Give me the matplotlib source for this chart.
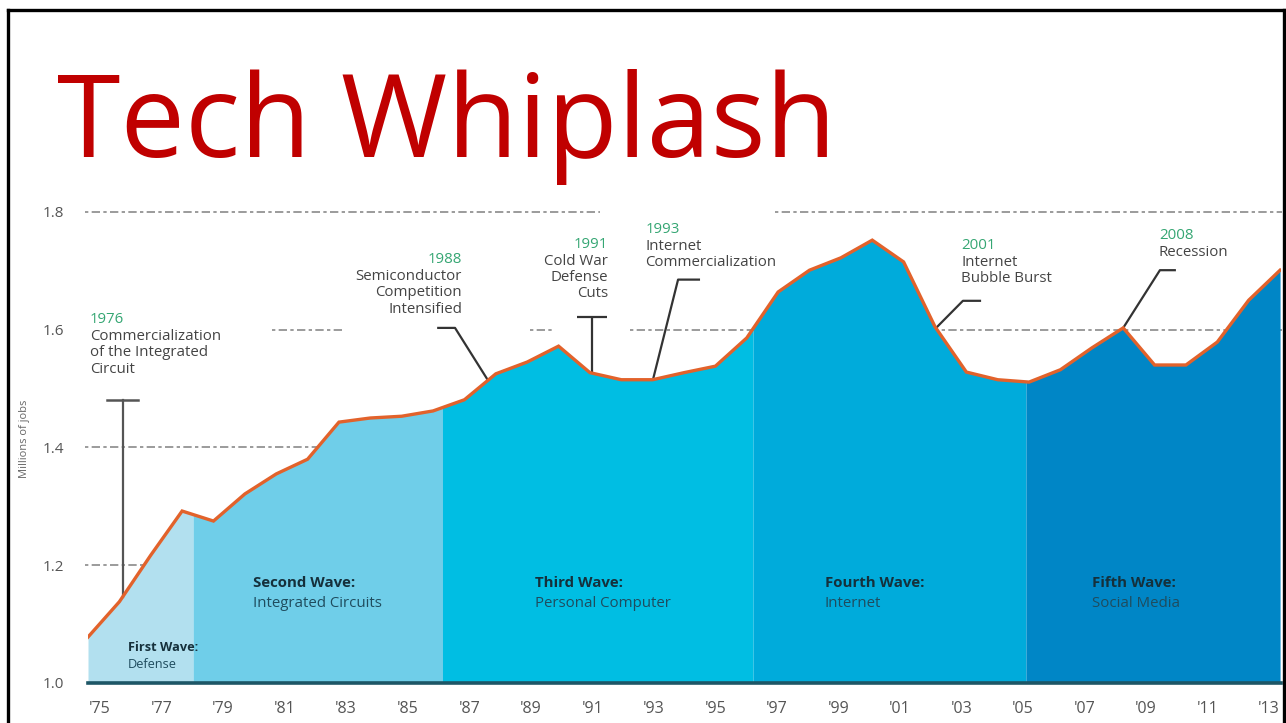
import numpy as np
import matplotlib
matplotlib.use("Agg")
import matplotlib.pyplot as plt
from matplotlib.lines import Line2D

# tech jobs, millions, 1975-2013
years = np.arange(1975, 2014)
jobs = [1.078, 1.138, 1.217, 1.292, 1.275, 1.321, 1.355, 1.380, 1.443, 1.450,
        1.453, 1.462, 1.481, 1.525, 1.545, 1.572, 1.527, 1.515, 1.515, 1.527,
        1.538, 1.586, 1.664, 1.701, 1.722, 1.752, 1.715, 1.605, 1.528, 1.515,
        1.511, 1.532, 1.569, 1.603, 1.540, 1.540, 1.579, 1.650, 1.701]

wave_edges = [1975, 1978.35, 1986.3, 1996.2, 2004.9, 2013]
wave_titles = ["First Wave:", "Second Wave:", "Third Wave:", "Fourth Wave:", "Fifth Wave:"]
wave_names = ["Defense", "Integrated Circuits", "Personal Computer", "Internet", "Social Media"]
wave_colors = ["#b2e0ef", "#6fcee9", "#00bee3", "#00abdb", "#0086c6"]

event_years = ["1976", "1988", "1991", "1993", "2001", "2008"]
event_texts = ["Commercialization\nof the Integrated\nCircuit",
               "Semiconductor\nCompetition\nIntensified",
               "Cold War\nDefense\nCuts",
               "Internet\nCommercialization",
               "Internet\nBubble Burst",
               "Recession"]

yticks = [1.0, 1.2, 1.4, 1.6, 1.8]
xlabel_years = list(range(1975, 2014, 2))
xlabels = ["'%02d" % (y % 100) for y in xlabel_years]

plt.rcParams['font.family'] = ['Open Sans', 'DejaVu Sans']

fig = plt.figure(figsize=(12.86, 7.23), dpi=100)
ax = fig.add_axes([88 / 1286, 40 / 723, 1193 / 1286, 530 / 723])
ax.set_xlim(1975, 2013.03)
ax.set_ylim(1.0, 1.9)

years_f = years.astype(float)

def val(x):
    return np.interp(x, years_f, jobs)

# dashed grid pieces (interrupted by the notes)
grid_kw = dict(color="#8a8a8a", lw=1.2, dashes=(2, 2, 5, 2), zorder=1, clip_on=False)
grid_segments = {1.2: [(1974.9, 1980)], 1.4: [(1974.9, 1985)],
                 1.6: [(1980.87, 1983.19), (1989.09, 1989.9), (1992.28, 2013.06)],
                 1.8: [(1974.9, 1991.32), (1996.9, 2013.06)]}
for yv, segs in grid_segments.items():
    for a, b in segs:
        ax.plot([a, b], [yv, yv], **grid_kw)

# coloured waves under the curve
for i in range(5):
    a, b = wave_edges[i], wave_edges[i + 1]
    xs = np.concatenate([[a], years_f[(years_f > a) & (years_f < b)], [b]])
    ax.fill_between(xs, 1.0, val(xs), color=wave_colors[i], lw=0, zorder=2)

ax.plot(years, jobs, color="#e2622b", lw=2.4, zorder=4, solid_joinstyle="miter")

# wave labels (the first one is set a bit smaller, as in the original)
wave_label_x = [1976.28, 1980.26, 1989.25, 1998.49, 2007.0]
wave_label_y = [1.071, 1.182, 1.182, 1.182, 1.182]
wave_fs = [9.2, 10.8, 10.8, 10.8, 10.8]
for i in range(5):
    ax.text(wave_label_x[i], wave_label_y[i], wave_titles[i], fontsize=wave_fs[i], fontweight="bold",
            color="#15303b", va="top", ha="left", zorder=5)
    ax.text(wave_label_x[i], wave_label_y[i] - wave_fs[i] * 0.0031, wave_names[i], fontsize=wave_fs[i],
            color="#1f4c5e", va="top", ha="left", zorder=5)

# event notes
green = "#35a673"
note_color = "#444444"
note_x = [1975.06, 1986.92, 1991.58, 1992.76, 2002.83, 2009.14]
note_y = [1.630, 1.732, 1.758, 1.783, 1.756, 1.773]
note_ha = ["left", "right", "right", "left", "left", "left"]
for i in range(6):
    ax.text(note_x[i], note_y[i], event_years[i], color=green, fontsize=10.8,
            ha=note_ha[i], va="top", zorder=5)
    ax.text(note_x[i], note_y[i] - 0.029, event_texts[i], color=note_color, fontsize=10.8,
            ha=note_ha[i], va="top", linespacing=1.12, zorder=5)

lk = dict(color="#333333", lw=1.6, zorder=3, solid_capstyle="butt")
# 1976 bracket
ax.plot([1976.1, 1976.1], [1.481, val(1976.1)], color="#555555", lw=1.6, zorder=3)
ax.plot([1975.6, 1976.6], [1.481, 1.481], color="#555555", lw=1.8, zorder=3)
# 1988 leader
ax.plot([1986.13, 1986.7, 1987.75], [1.603, 1.603, val(1987.75)], **lk)
# 1991 T
ax.plot([1990.59, 1991.55], [1.622, 1.622], **lk)
ax.plot([1991.07, 1991.07], [1.622, val(1991.07)], **lk)
# 1993 leader
ax.plot([1994.51, 1993.81, 1993.01], [1.685, 1.685, val(1993.01)], **lk)
# 2001 leader
ax.plot([2003.47, 2002.89, 2002.03], [1.649, 1.649, val(2002.03)], **lk)
# 2008 leader
ax.plot([2009.68, 2009.17, 2008.0], [1.701, 1.701, val(2008.0)], **lk)

# axes styling
for s in ["top", "right", "left"]:
    ax.spines[s].set_visible(False)
ax.spines["bottom"].set_color("#1d5666")
ax.spines["bottom"].set_linewidth(2.6)
ax.spines["bottom"].set_zorder(6)
ax.set_yticks(yticks)
ax.set_yticklabels(["%.1f" % v for v in yticks])
# year labels sit slightly inside the plotted span in the original
ax.set_xticks(np.linspace(1975.38, 2012.65, len(xlabel_years)))
ax.set_xticklabels(xlabels)
ax.tick_params(axis="y", length=0, pad=17, labelsize=11, labelcolor="#555555")
ax.tick_params(axis="x", length=0, pad=13, labelsize=11.5, labelcolor="#555555")
ax.set_ylabel("Millions of jobs", fontsize=8, color="#666666", labelpad=4)
ax.yaxis.set_label_coords(-0.049, 0.46)

fig.text(57 / 1286, 1 - 157 / 723, "Tech Whiplash", color="#c00000", fontsize=83,
         family="Open Sans", va="baseline", ha="left")

# black frame
for xs_, ys_ in [([8 / 1286, 8 / 1286], [0, 1 - 10 / 723]),
                 ([8 / 1286, 1284 / 1286], [1 - 10 / 723, 1 - 10 / 723]),
                 ([1284 / 1286, 1284 / 1286], [1 - 10 / 723, 0])]:
    fig.add_artist(Line2D(xs_, ys_, color="black", lw=2.4, transform=fig.transFigure))

fig.savefig("out.png", dpi=100)
